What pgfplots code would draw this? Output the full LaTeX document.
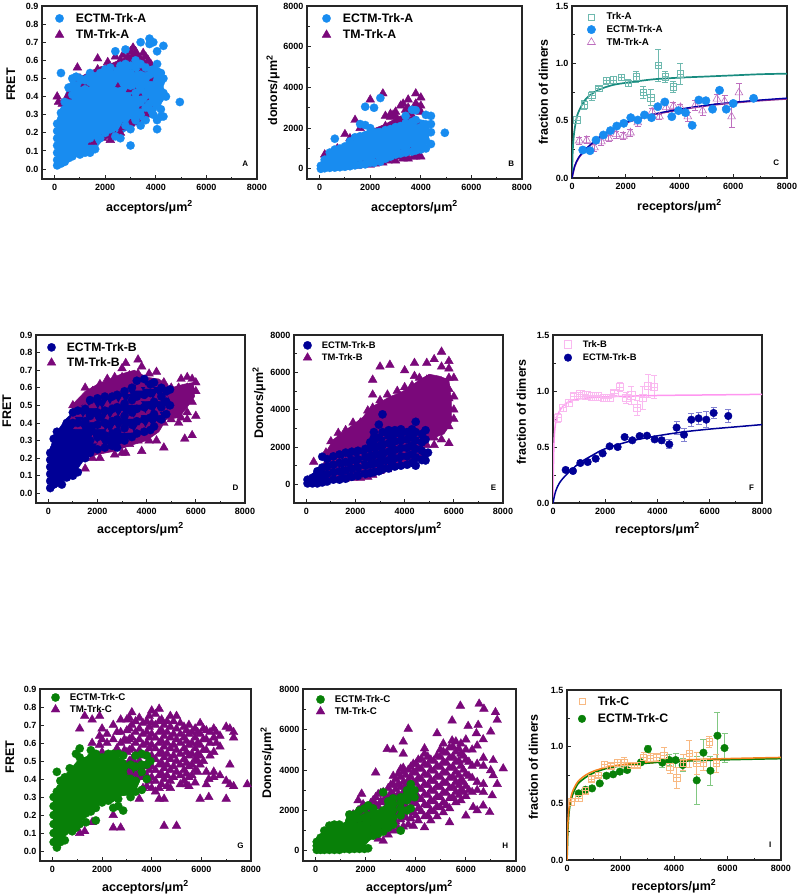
\documentclass[border=0pt]{standalone}
\usepackage{fontspec}
\setmainfont{Liberation Sans}
\usepackage{pgfplots}
\pgfplotsset{compat=1.18}
\definecolor{skyb}{RGB}{24,140,240}
\definecolor{purp}{RGB}{122,8,122}
\definecolor{navy}{RGB}{0,0,150}
\definecolor{grn}{RGB}{8,128,8}
\definecolor{teal1}{RGB}{25,140,128}
\definecolor{teal2}{RGB}{110,185,175}
\definecolor{lilac}{RGB}{190,110,190}
\definecolor{pink1}{RGB}{255,150,240}
\definecolor{pink2}{RGB}{250,185,240}
\definecolor{orng}{RGB}{245,130,30}
\definecolor{orng2}{RGB}{248,185,130}
\definecolor{errb}{RGB}{130,130,210}
\definecolor{errg}{RGB}{130,200,130}
\pgfdeclareplotmark{sqplus}{%
 \pgfpathrectangle{\pgfqpoint{-\pgfplotmarksize}{-\pgfplotmarksize}}{\pgfqpoint{2\pgfplotmarksize}{2\pgfplotmarksize}}%
 \pgfpathmoveto{\pgfqpoint{-\pgfplotmarksize}{0pt}}\pgfpathlineto{\pgfqpoint{\pgfplotmarksize}{0pt}}%
 \pgfpathmoveto{\pgfqpoint{0pt}{-\pgfplotmarksize}}\pgfpathlineto{\pgfqpoint{0pt}{\pgfplotmarksize}}%
 \pgfusepathqstroke}
\newcommand{\fs}[1]{\bfseries\fontsize{#1}{#1}\selectfont}
\pgfplotsset{
 panel/.style={scale only axis, axis line style={line width=1.3pt,black!85},
  tick pos=lower, tick align=inside, major tick length=4pt, minor tick length=2.5pt,
  tick style={line width=.9pt,black!85}, scaled ticks=false, clip=true,
  tick label style={font=\fs{9}}, xticklabel style={yshift=-2pt},
  /pgf/number format/assume math mode=true, /pgf/number format/1000 sep={},
  xtick={0,2000,4000,6000,8000}, minor x tick num=1, xmax=8000,
  label style={font=\fs{12.5}},
  legend cell align=left, reverse legend},
 fretax/.style={panel, xmin=-500, ymin=-0.055, ymax=0.9, ytick={0,0.1,...,0.9}, ylabel={FRET},
  xlabel={acceptors/μm\textsuperscript{2}},
  yticklabel style={/pgf/number format/fixed,/pgf/number format/fixed zerofill,/pgf/number format/precision=1}},
 donax/.style={panel, xmin=-500, ymin=-500, ymax=8000, ytick={0,2000,4000,6000,8000}, minor y tick num=1,
  xlabel={acceptors/μm\textsuperscript{2}}},
 dimax/.style={panel, xmin=0, ymin=0, ymax=1.5, ytick={0,0.5,1,1.5}, minor y tick num=1,
  ylabel={fraction of dimers}, xlabel={receptors/μm\textsuperscript{2}},
  yticklabel style={/pgf/number format/fixed,/pgf/number format/fixed zerofill,/pgf/number format/precision=1}},
 lg/.style n args={5}{legend style={draw=none,fill=none,at={(#1pt,#2pt)},anchor=north west,inner sep=0pt,
   font=\fs{#3},nodes={inner sep=1pt},row sep=#5pt,
   /tikz/every odd column/.append style={column sep=#4pt}}},
 lab/.style n args={3}{ylabel style={yshift=#1pt,xshift=#2pt}, xlabel style={yshift=#3pt}},
 tri/.style={only marks, mark=triangle*, mark size=5pt, mark options={draw=#1,fill=#1,line width=.4pt}},
 cir/.style={only marks, mark=*, mark size=4.2pt, mark options={draw=#1,fill=#1,line width=.2pt}},
 core/.style={forget plot, fill=#1, draw=#1, line width=.5pt},
 errs/.style={error bars/.cd, y dir=both, y explicit, error bar style={line width=.7pt,#1},
   error mark options={rotate=90,mark size=3pt,line width=.7pt,#1}, /pgfplots/.cd},
}
% In the scatter panels a 'core' polygon is the saturated middle of a cloud, where the marks overlap
% into solid colour in the reference; its corners are read from the picture, the marks around it likewise.
\begin{document}
\begin{tikzpicture}
\path[use as bounding box] (0,0) rectangle (800pt,-894pt);
% A
\begin{axis}[fretax, at={(42pt,-179pt)}, anchor=south west, width=215pt, height=173pt, lg={13}{167}{12.3}{11}{4}, lab={4}{8}{-3}]
\addplot[core=purp] coordinates {(900,.5)(1700,.56)(2200,.58)(2700,.61)(3100,.64)(3500,.62)(3800,.55)(3800,.4)(3500,.3)(3000,.24)(2500,.19)(1900,.16)(1400,.15)} --cycle;
\addplot[tri=purp] coordinates {(100,.40)(150,.37)(300,.36)(500,.40)(600,.41)(900,.56)(1000,.50)(1200,.47)(1700,.61)(1700,.55)(2100,.59)(2150,.56)(2400,.62)(2600,.6)(2700,.63)(2900,.62)(3000,.65)(3100,.67)(3200,.65)(3300,.62)(3400,.6)(3500,.64)(3600,.62)(3700,.6)(3800,.58)(3000,.55)(3300,.57)(3500,.55)(1500,.15)(1900,.17)(2200,.16)(2400,.18)(2600,.2)(2700,.23)(3000,.25)(3300,.26)(3500,.35)(2500,.45)(3000,.44)(3200,.42)(3500,.42)(3700,.36)(3600,.3)(3800,.5)};
\addlegendentry{TM-Trk-A}
\addplot[core=skyb] coordinates {(60,.03)(60,.24)(150,.3)(300,.36)(550,.46)(700,.5)(1000,.5)(1350,.53)(1700,.54)(2000,.56)(2400,.56)(2800,.58)(3200,.58)(3600,.56)(4100,.55)(4300,.47)(4300,.38)(4000,.32)(3700,.29)(3300,.25)(2900,.22)(2500,.18)(2200,.22)(1900,.16)(1600,.11)(1300,.09)(900,.08)(500,.05)(200,.02)} --cycle;
\addplot[cir=skyb] coordinates {(100,.02)(100,.05)(100,.09)(100,.13)(100,.17)(100,.21)(100,.25)(250,.03)(250,.07)(250,.12)(250,.17)(250,.22)(250,.27)(250,.31)(250,.53)(400,.04)(400,.09)(400,.15)(400,.21)(400,.27)(400,.33)(400,.37)(550,.06)(550,.12)(550,.18)(550,.24)(550,.30)(550,.36)(550,.45)(700,.07)(700,.13)(700,.2)(700,.27)(700,.34)(700,.41)(700,.50)(850,.09)(850,.16)(850,.23)(850,.30)(850,.37)(850,.44)(850,.51)(1000,.08)(1000,.15)(1000,.22)(1000,.29)(1000,.36)(1000,.43)(1000,.50)(1200,.09)(1200,.16)(1200,.23)(1200,.3)(1200,.37)(1200,.44)(1200,.49)(1400,.09)(1400,.17)(1400,.25)(1400,.33)(1400,.41)(1400,.48)(1400,.53)(1600,.11)(1600,.19)(1600,.27)(1600,.35)(1600,.43)(1600,.50)(1800,.17)(1800,.25)(1800,.33)(1800,.41)(1800,.49)(1800,.53)(2000,.2)(2000,.27)(2000,.35)(2000,.43)(2000,.5)(2000,.55)(2200,.22)(2200,.29)(2200,.37)(2200,.45)(2200,.53)(2200,.56)(2400,.18)(2400,.27)(2400,.35)(2400,.43)(2400,.51)(2400,.65)(2600,.17)(2600,.28)(2600,.36)(2600,.43)(2600,.5)(2600,.57)(2800,.24)(2800,.32)(2800,.40)(2800,.47)(2800,.54)(2800,.58)(2800,.66)(3000,.13)(3000,.22)(3000,.3)(3000,.38)(3000,.46)(3000,.53)(3000,.57)(3200,.27)(3200,.35)(3200,.42)(3200,.5)(3200,.56)(3200,.6)(3400,.24)(3400,.3)(3400,.37)(3400,.44)(3400,.52)(3400,.58)(3400,.70)(3600,.27)(3600,.34)(3600,.42)(3600,.5)(3600,.56)(3750,.36)(3750,.46)(3750,.52)(3750,.72)(3750,.69)(3900,.30)(3900,.38)(3900,.45)(3900,.55)(3900,.70)(4050,.22)(4050,.27)(4050,.36)(4050,.43)(4050,.49)(4050,.54)(4050,.58)(4050,.65)(4200,.29)(4200,.33)(4200,.43)(4200,.48)(4200,.53)(4300,.29)(4300,.42)(4300,.5)(4300,.68)(4400,.40)(4950,.37)};
\addlegendentry{ECTM-Trk-A}
\node[font=\fs{8}] at (rel axis cs:.945,.09) {A};
\end{axis}
% B
\begin{axis}[donax, at={(307pt,-179pt)}, anchor=south west, width=215pt, height=173pt, ylabel={donors/μm\textsuperscript{2}}, lg={15}{167}{12.3}{11}{4}, lab={-3}{2}{-3}]
\addplot[core=purp] coordinates {(500,200)(1000,1100)(1500,1600)(2000,1900)(2600,2200)(3200,2600)(3800,2500)(3900,1000)(3200,600)(2500,400)(1500,250)(800,120)} --cycle;
\addplot[tri=purp] coordinates {(200,700)(700,1000)(1000,1700)(1200,1500)(1400,2400)(1600,2000)(2000,3400)(2500,3700)(2600,2600)(2800,2700)(3000,2800)(3200,3100)(3500,3400)(3800,3700)(4000,3500)(4000,2800)(3700,2500)(1000,100)(1500,150)(2000,200)(2500,300)(3000,400)(3300,500)(3500,500)(3800,600)(4000,600)(2800,500)(3200,700)(3600,800)(3000,2300)(2600,2100)(2800,2550)(2900,2650)(3000,2600)(3300,3200)(3400,2900)(3500,3000)(3600,2700)(3900,3000)(3800,2300)(3800,3200)(4000,3100)(1200,200)(1700,180)(2200,250)(2700,400)(2900,500)(3100,600)(3300,600)(3700,600)(3900,650)};
\addlegendentry{TM-Trk-A}
\addplot[core=skyb] coordinates {(0,0)(0,250)(400,800)(800,1100)(1200,1400)(1600,1700)(2000,1950)(2500,2000)(3000,2150)(3400,2300)(3800,2450)(4300,2350)(4350,1700)(4200,1100)(3700,900)(3000,700)(2600,400)(2000,300)(1500,180)(1000,100)(500,40)} --cycle;
\addplot[cir=skyb] coordinates {(50,0)(50,150)(200,30)(200,250)(200,450)(400,50)(400,300)(400,550)(400,800)(600,60)(600,350)(600,650)(600,950)(600,1480)(800,80)(800,400)(800,700)(800,1000)(1000,100)(1000,400)(1000,750)(1000,1100)(1200,130)(1200,450)(1200,800)(1200,1150)(1200,1350)(1400,170)(1400,500)(1400,850)(1400,1200)(1400,1550)(1600,200)(1600,550)(1600,900)(1600,1250)(1600,1600)(1600,2200)(1800,220)(1800,600)(1800,950)(1800,1300)(1800,1650)(1800,2150)(1800,3050)(2000,300)(2000,650)(2000,1000)(2000,1350)(2000,1700)(2000,2000)(2150,300)(2150,700)(2150,1050)(2150,1400)(2150,1750)(2150,3000)(2400,350)(2400,750)(2400,1100)(2400,1450)(2400,1800)(2400,3480)(2600,500)(2600,850)(2600,1200)(2600,1550)(2600,1900)(2800,600)(2800,900)(2800,1250)(2800,1600)(2800,1950)(3000,700)(3000,1050)(3000,1400)(3000,1750)(3000,2050)(3200,750)(3200,1150)(3200,1500)(3200,1850)(3200,2100)(3400,800)(3400,1200)(3400,1550)(3400,1900)(3400,2250)(3400,2600)(3650,850)(3650,1250)(3650,1600)(3650,1950)(3650,2300)(3650,2900)(3800,900)(3800,1300)(3800,1650)(3800,2000)(3800,2400)(3800,2880)(4000,950)(4000,1300)(4000,1700)(4000,2050)(4200,1000)(4200,1400)(4200,1750)(4200,2100)(4200,2650)(4400,1220)(4400,1800)(4400,2200)(4400,2600)(4950,1770)};
\addlegendentry{ECTM-Trk-A}
\node[font=\fs{8}] at (rel axis cs:.95,.09) {B};
\end{axis}
% C
\begin{axis}[dimax, at={(572pt,-178pt)}, anchor=south west, width=215pt, height=172pt, reverse legend=false, lg={15}{166.5}{9.8}{10}{2}, lab={1}{0}{-3}]
\addplot[only marks, mark=sqplus, mark size=3.2pt, mark options={teal2,line width=.6pt}, legend image post style={mark=square}, errs=teal2] coordinates {(174,.506)+-(0,.03)(460,.64)+-(0,.04)(733,.72)+-(0,.04)(994,.78)+-(0,.02)(1267,.85)+-(0,.03)(1540,.855)+-(0,.03)(1826,.878)+-(0,.03)(2100,.826)+-(0,.03)(2385,.884)+-(0,.05)(2658,.747)+-(0,.05)(2930,.70)+-(0,.07)(3205,.985)+-(0,.14)(3466,.884)+-(0,.05)(3764,.797)+-(0,.05)(4025,.907)+-(0,.09)};
\addlegendentry{Trk-A}
\addplot[forget plot, only marks, mark=triangle, mark size=4.5pt, mark options={lilac,line width=.6pt}, errs=lilac] coordinates {(273,.325)+-(0,.03)(547,.33)+-(0,.03)(832,.265)+-(0,.03)(1093,.317)+-(0,.03)(1366,.346)+-(0,.03)(1640,.38)+-(0,.03)(1913,.366)+-(0,.03)(2174,.395)+-(0,.03)(2447,.483)+-(0,.03)(2981,.578)+-(0,.03)(3255,.535)+-(0,.02)(3503,.616)+-(0,.04)(3776,.628)+-(0,.03)(4037,.616)+-(0,.03)(4310,.535)+-(0,.04)(4584,.634)+-(0,.04)(4857,.587)+-(0,.04)(5391,.69)+-(0,.04)(5677,.67)+-(0,.05)(5938,.535)+-(0,.09)(6211,.744)+-(0,.08)};
\addplot[only marks, mark=*, mark size=4.2pt, mark options={draw=skyb,fill=skyb}] coordinates {(400,.244)(670,.238)(894,.33)(1168,.375)(1429,.413)(1665,.453)(1925,.477)(2186,.526)(2447,.506)(2696,.55)(2957,.526)(3193,.622)(3453,.663)(3714,.535)(3963,.587)(4224,.57)(4472,.459)(4720,.68)(4981,.674)(5230,.6)(5490,.765)(5739,.60)(5999,.65)(6758,.695)};
\addlegendentry{ECTM-Trk-A}
\addlegendimage{only marks, mark=triangle, mark size=4.5pt, mark options={lilac,line width=.6pt}}
\addlegendentry{TM-Trk-A}
\addplot[forget plot, teal1, line width=1.7pt, smooth] coordinates {(0,0)(10,.1)(30,.25)(60,.35)(100,.43)(200,.55)(400,.65)(600,.71)(1000,.77)(1500,.81)(2000,.83)(3000,.86)(4000,.875)(5000,.885)(6000,.895)(7000,.905)(8000,.91)};
\addplot[forget plot, purp!85, line width=1.7pt, smooth] coordinates {(0,0)(100,.1)(250,.175)(500,.245)(1000,.35)(1500,.42)(2000,.48)(3000,.55)(4000,.595)(5000,.63)(6000,.655)(7000,.675)(8000,.69)};
\addplot[forget plot, blue!65!black, line width=1.3pt, smooth] coordinates {(0,0)(100,.105)(250,.18)(500,.25)(1000,.355)(1500,.425)(2000,.485)(3000,.555)(4000,.6)(5000,.635)(6000,.66)(7000,.68)(8000,.697)};
\node[font=\fs{8}] at (rel axis cs:.95,.09) {C};
\end{axis}
% D
\begin{axis}[fretax, at={(36pt,-503pt)}, anchor=south west, width=209pt, height=168pt, lg={11}{162}{12.2}{10}{3}, lab={2}{8}{-1}]
\addplot[core=purp] coordinates {(950,.5)(1500,.58)(2000,.62)(2500,.65)(3000,.68)(3500,.7)(4000,.66)(4500,.65)(5000,.6)(5500,.62)(5900,.63)(5950,.55)(5600,.48)(5300,.43)(4800,.42)(4500,.35)(4000,.3)(3300,.27)(2700,.24)(2000,.22)(1500,.2)} --cycle;
\addplot[tri=purp] coordinates {(1000,.5)(1000,.42)(1200,.5)(1200,.45)(1200,.38)(1500,.6)(1500,.5)(1500,.42)(1500,.14)(1800,.58)(1800,.5)(1800,.42)(1800,.3)(1800,.2)(2100,.62)(2100,.55)(2100,.47)(2100,.38)(2100,.28)(2100,.2)(2400,.65)(2400,.58)(2400,.5)(2400,.42)(2400,.34)(2400,.25)(2700,.66)(2700,.6)(2700,.52)(2700,.44)(2700,.36)(2700,.22)(3000,.71)(3000,.66)(3000,.6)(3000,.52)(3000,.44)(3000,.36)(3000,.23)(3150,.74)(3150,.65)(3150,.58)(3150,.23)(3300,.67)(3300,.6)(3300,.52)(3300,.44)(3300,.36)(3300,.28)(3650,.76)(3650,.68)(3650,.6)(3650,.52)(3650,.44)(3650,.36)(3650,.3)(3800,.72)(3800,.62)(3800,.54)(3800,.46)(3800,.38)(3800,.24)(4100,.68)(4100,.61)(4100,.54)(4100,.46)(4100,.38)(4100,.3)(4400,.69)(4400,.62)(4400,.54)(4400,.46)(4400,.38)(4400,.3)(4700,.63)(4700,.56)(4700,.48)(4700,.4)(4700,.26)(5000,.6)(5000,.53)(5000,.46)(5000,.42)(5300,.6)(5300,.53)(5300,.47)(5300,.4)(5400,.65)(5400,.58)(5400,.5)(5400,.43)(5650,.66)(5650,.6)(5650,.53)(5650,.46)(5650,.42)(5850,.65)(5850,.59)(5850,.52)(5850,.33)(6000,.63)(6000,.58)(6000,.44)(5550,.31)};
\addlegendentry{TM-Trk-B}
\addplot[core=navy] coordinates {(50,.04)(50,.24)(200,.31)(350,.35)(700,.42)(1000,.46)(1300,.49)(1600,.53)(2000,.54)(2400,.55)(2800,.56)(3100,.58)(3500,.61)(3900,.64)(4300,.63)(4700,.59)(4950,.53)(4800,.46)(4300,.39)(3800,.35)(3100,.3)(2700,.26)(2000,.26)(1500,.2)(1150,.13)(800,.09)(500,.06)(150,.03)} --cycle;
\addplot[cir=navy] coordinates {(80,.03)(80,.07)(80,.11)(80,.15)(80,.19)(80,.23)(220,.05)(220,.1)(220,.15)(220,.2)(220,.25)(220,.31)(350,.06)(350,.12)(350,.18)(350,.24)(350,.3)(350,.35)(550,.05)(550,.1)(550,.16)(550,.22)(550,.28)(550,.34)(750,.09)(750,.15)(750,.21)(750,.27)(750,.33)(750,.4)(1000,.1)(1000,.16)(1000,.22)(1000,.28)(1000,.34)(1000,.4)(1000,.46)(1200,.12)(1200,.19)(1200,.26)(1200,.33)(1200,.4)(1200,.47)(1500,.2)(1500,.27)(1500,.34)(1500,.41)(1500,.48)(1700,.23)(1700,.3)(1700,.37)(1700,.44)(1700,.53)(2000,.25)(2000,.32)(2000,.39)(2000,.46)(2000,.54)(2300,.26)(2300,.33)(2300,.4)(2300,.47)(2300,.55)(2600,.27)(2600,.34)(2600,.41)(2600,.48)(2600,.55)(2800,.26)(2800,.35)(2800,.42)(2800,.49)(2800,.56)(3100,.3)(3100,.37)(3100,.44)(3100,.51)(3100,.58)(3400,.32)(3400,.39)(3400,.46)(3400,.53)(3400,.6)(3600,.34)(3600,.41)(3600,.48)(3600,.55)(3600,.64)(3900,.35)(3900,.42)(3900,.49)(3900,.56)(3900,.65)(4150,.36)(4150,.43)(4150,.5)(4150,.57)(4150,.62)(4300,.38)(4300,.45)(4300,.52)(4300,.63)(4600,.42)(4600,.49)(4600,.55)(4600,.6)(4800,.45)(4800,.52)(4800,.58)(4950,.5)(4950,.59)};
\addlegendentry{ECTM-Trk-B}
\node[font=\fs{8}] at (rel axis cs:.955,.09) {D};
\end{axis}
% E
\begin{axis}[donax, ymin=-1000, at={(294pt,-503pt)}, anchor=south west, width=209pt, height=168pt, ylabel={Donors/μm\textsuperscript{2}}, lg={9}{163}{9.4}{9}{2}, lab={-2}{16}{-1}]
\addplot[core=purp] coordinates {(700,1500)(1100,2400)(1500,2800)(1900,3200)(2300,3600)(2600,4100)(3000,4400)(3400,4700)(3800,4900)(4200,5200)(4600,5600)(5000,5900)(5400,5800)(5800,5600)(5900,4500)(5900,3300)(5600,2700)(5000,2400)(4600,1900)(4000,1400)(3400,900)(2800,600)(2200,420)(1500,350)(1000,450)} --cycle;
\addplot[tri=purp] coordinates {(300,1200)(800,600)(800,1100)(800,1700)(1000,350)(1000,800)(1000,1300)(1000,1800)(1000,2300)(1300,350)(1300,850)(1300,1350)(1300,1850)(1300,2400)(1300,2750)(1600,300)(1600,800)(1600,1300)(1600,1800)(1600,2300)(1600,2900)(1900,350)(1900,850)(1900,1350)(1900,1850)(1900,2350)(1900,2850)(1900,3300)(2200,350)(2200,900)(2200,1400)(2200,1900)(2200,2400)(2200,2900)(2200,3300)(2500,400)(2500,950)(2500,1450)(2500,1950)(2500,2450)(2500,2950)(2500,3450)(2500,3950)(2700,500)(2700,1000)(2700,1500)(2700,2000)(2700,2500)(2700,3000)(2700,3500)(2700,4100)(2700,4800)(2700,5600)(3000,700)(3000,1200)(3000,1700)(3000,2200)(3000,2700)(3000,3200)(3000,3700)(3000,4200)(3000,4500)(3000,6300)(3300,800)(3300,1300)(3300,1800)(3300,2300)(3300,2800)(3300,3300)(3300,3800)(3300,4300)(3300,4800)(3400,6400)(3700,1000)(3700,1500)(3700,2000)(3700,2500)(3700,3000)(3700,3500)(3700,4000)(3700,4500)(3700,5000)(4000,1200)(4000,1700)(4000,2200)(4000,2700)(4000,3200)(4000,3700)(4000,4200)(4000,4700)(4000,5200)(4000,6100)(4300,1400)(4300,1900)(4300,2400)(4300,2900)(4300,3400)(4300,3900)(4300,4400)(4300,4900)(4300,5300)(4400,5800)(4400,6500)(4600,1700)(4600,2200)(4600,2700)(4600,3200)(4600,3700)(4600,4200)(4600,4700)(4600,5200)(4600,5700)(4900,2100)(4900,2600)(4900,3100)(4900,3600)(4900,4100)(4900,4600)(4900,5100)(4900,5600)(4900,6500)(5200,2100)(5200,2500)(5200,3000)(5200,3500)(5200,4000)(5200,4500)(5200,5000)(5200,5500)(5200,6700)(5500,2400)(5500,3000)(5500,3500)(5500,4000)(5500,4500)(5500,5000)(5500,5500)(5500,6300)(5500,7100)(5800,2200)(5800,3100)(5800,3600)(5800,4100)(5800,4600)(5800,5100)(5800,5700)(5800,6200)(5800,6600)(6000,3500)(6000,4000)(6000,4700)(6000,5700)};
\addlegendentry{TM-Trk-B}
\addplot[core=navy] coordinates {(0,50)(0,300)(500,850)(900,1350)(1500,1750)(2000,1800)(2500,2100)(2750,2750)(3100,2800)(3400,2900)(3800,2950)(4400,2950)(4700,2600)(4800,1500)(4400,1100)(3700,1000)(3000,750)(2400,560)(1800,400)(1200,250)(600,80)} --cycle;
\addplot[cir=navy] coordinates {(50,50)(50,250)(250,50)(250,350)(450,50)(450,400)(450,700)(650,100)(650,500)(650,900)(650,1480)(850,150)(850,550)(850,950)(850,1350)(1100,250)(1100,650)(1100,1050)(1100,1500)(1350,250)(1350,700)(1350,1150)(1350,1600)(1600,300)(1600,750)(1600,1200)(1600,1700)(1850,400)(1850,850)(1850,1300)(1850,1750)(2100,450)(2100,900)(2100,1350)(2100,1800)(2400,550)(2400,1000)(2400,1450)(2400,1900)(2600,600)(2600,1050)(2600,1500)(2600,1950)(2600,2250)(2750,650)(2750,1100)(2750,1550)(2750,2000)(2750,2500)(2750,2800)(2950,700)(2950,1150)(2950,1600)(2950,2050)(2950,2500)(2950,3200)(3100,800)(3100,1250)(3100,1700)(3100,2150)(3100,2800)(3100,3750)(3350,850)(3350,1300)(3350,1750)(3350,2200)(3350,2600)(3350,2900)(3600,950)(3600,1400)(3600,1850)(3600,2300)(3600,2700)(3600,2900)(3850,1000)(3850,1500)(3850,1950)(3850,2350)(3850,2700)(3850,2950)(4100,1050)(4100,1500)(4100,1950)(4100,2400)(4100,2800)(4300,1150)(4300,1600)(4300,2050)(4300,2500)(4300,2950)(4450,1000)(4450,1450)(4450,1900)(4450,2350)(4450,2800)(4450,3350)(4700,1300)(4700,1800)(4700,2250)(4700,2700)(4850,1280)(4850,1650)(4850,2400)(4850,2900)(4950,1700)};
\addlegendentry{ECTM-Trk-B}
\node[font=\fs{8}] at (rel axis cs:.955,.09) {E};
\end{axis}
% F
\begin{axis}[dimax, at={(553pt,-503pt)}, anchor=south west, width=209pt, height=168pt, lg={11}{164}{9.4}{10}{3}, reverse legend=false, lab={4}{7}{-1}]
\addplot[only marks, mark=sqplus, mark size=3.6pt, mark options={pink2,line width=.6pt}, legend image post style={mark=square}, errs=pink2] coordinates {(179,.762)+-(0,.04)(383,.851)+-(0,.03)(600,.896)+-(0,.03)(816,.952)+-(0,.03)(1046,.97)+-(0,.02)(1276,.961)+-(0,.01)(1505,.952)+-(0,.01)(1722,.952)+-(0,.01)(1939,.94)+-(0,.01)(2156,.94)+-(0,.01)(2347,.982)+-(0,.02)(2551,1.036)+-(0,.04)(2806,.94)+-(0,.05)(2997,.961)+-(0,.08)(3214,.851)+-(0,.07)(3431,.94)+-(0,.1)(3635,1.045)+-(0,.1)(3865,1.036)+-(0,.1)};
\addlegendentry{Trk-B}
\addplot[only marks, mark=*, mark size=3.8pt, mark options={draw=navy,fill=navy}, errs=errb] coordinates {(485,.295)+-(0,.02)(765,.286)+-(0,.02)(1046,.357)+-(0,.02)(1327,.366)+-(0,.02)(1633,.396)+-(0,.02)(1900,.443)+-(0,.02)(2168,.506)+-(0,.02)(2474,.5)+-(0,.02)(2742,.589)+-(0,.02)(3036,.56)+-(0,.02)(3316,.598)+-(0,.02)(3597,.601)+-(0,.02)(3890,.568)+-(0,.02)(4158,.56)+-(0,.03)(4451,.524)+-(0,.04)(4732,.673)+-(0,.06)(5013,.61)+-(0,.06)(5293,.744)+-(0,.06)(5574,.756)+-(0,.055)(5867,.744)+-(0,.07)(6148,.804)+-(0,.05)(6709,.777)+-(0,.06)};
\addlegendentry{ECTM-Trk-B}
\addplot[forget plot, pink1, line width=1.5pt, smooth] coordinates {(0,0)(15,.3)(40,.55)(80,.68)(150,.77)(300,.84)(500,.89)(800,.92)(1200,.935)(2000,.948)(4000,.96)(6000,.965)(8000,.97)};
\addplot[forget plot, navy, line width=1.5pt, smooth] coordinates {(0,0)(100,.105)(250,.18)(500,.25)(1000,.355)(1500,.425)(2000,.485)(3000,.555)(4000,.6)(5000,.635)(6000,.66)(7000,.68)(8000,.7)};
\node[font=\fs{8}] at (rel axis cs:.95,.09) {F};
\end{axis}
% G
\begin{axis}[fretax, at={(40pt,-861pt)}, anchor=south west, width=211pt, height=172pt, lg={11}{169}{9.7}{9}{1.5}, lab={3}{18}{-1}]
\addplot[tri=purp] coordinates {(1100,.10)(1100,.68)(1300,.11)(1300,.75)(1600,.16)(1600,.60)(1600,.73)(1900,.64)(1900,.59)(1900,.75)(2200,.65)(2200,.6)(2450,.2)(2450,.13)(2450,.62)(2450,.7)(2750,.13)(2750,.6)(2750,.66)(2750,.73)(3000,.73)(3000,.67)(3000,.61)(3000,.55)(3200,.77)(3200,.7)(3200,.63)(3200,.57)(3200,.51)(3500,.74)(3500,.68)(3500,.62)(3500,.56)(3500,.5)(3500,.44)(3500,.29)(3800,.72)(3800,.66)(3800,.6)(3800,.54)(3800,.48)(3800,.42)(3800,.36)(4000,.78)(4000,.71)(4000,.65)(4000,.59)(4000,.53)(4000,.47)(4000,.41)(4000,.35)(4300,.79)(4300,.72)(4300,.66)(4300,.6)(4300,.54)(4300,.48)(4300,.42)(4300,.35)(4300,.29)(4500,.14)(4500,.7)(4500,.64)(4500,.58)(4500,.52)(4500,.46)(4500,.4)(4500,.29)(4750,.75)(4750,.69)(4750,.63)(4750,.57)(4750,.51)(4750,.45)(4750,.39)(4750,.35)(5000,.14)(5000,.75)(5000,.68)(5000,.62)(5000,.56)(5000,.5)(5000,.44)(5300,.69)(5300,.63)(5300,.57)(5300,.51)(5300,.45)(5300,.39)(5500,.7)(5500,.65)(5500,.59)(5500,.53)(5500,.47)(5500,.41)(5500,.36)(5750,.68)(5750,.63)(5750,.57)(5750,.51)(5750,.45)(5750,.38)(5950,.71)(5950,.65)(5950,.59)(5950,.53)(5950,.48)(5950,.29)(6200,.67)(6200,.62)(6200,.56)(6200,.44)(6200,.37)(6300,.3)(6300,.4)(6500,.68)(6500,.63)(6500,.55)(6500,.44)(6500,.41)(6750,.64)(6750,.58)(6750,.42)(7000,.69)(7000,.29)(7000,.39)(7150,.68)(7150,.48)(7150,.37)(7300,.66)(7300,.63)(7300,.36)(7850,.37)
(3100,.74)(3100,.68)(3100,.62)(3100,.56)(3100,.5)(3100,.44)(3350,.72)(3350,.66)(3350,.6)(3350,.54)(3350,.48)(3350,.42)(3650,.71)(3650,.65)(3650,.59)(3650,.53)(3650,.47)(3650,.41)(3650,.35)(3900,.75)(3900,.69)(3900,.63)(3900,.57)(3900,.51)(3900,.45)(3900,.39)(4150,.76)(4150,.7)(4150,.63)(4150,.57)(4150,.51)(4150,.45)(4150,.39)(4150,.33)(4400,.73)(4400,.67)(4400,.61)(4400,.55)(4400,.49)(4400,.43)(4400,.37)(4620,.72)(4620,.66)(4620,.6)(4620,.54)(4620,.48)(4620,.42)(4620,.36)(4880,.72)(4880,.65)(4880,.59)(4880,.53)(4880,.47)(4880,.41)(5150,.71)(5150,.65)(5150,.6)(5150,.54)(5150,.48)(5150,.42)(5150,.37)(5400,.67)(5400,.61)(5400,.55)(5400,.49)(5400,.43)(5400,.37)(5620,.66)(5620,.6)(5620,.54)(5620,.48)(5620,.42)(5850,.66)(5850,.6)(5850,.54)(5850,.5)(5850,.44)(6080,.68)(6080,.62)(6080,.56)(6080,.5)(6350,.66)(6350,.6)(6350,.53)(2000,.55)(2000,.68)(2000,.62)(2600,.57)(2600,.66)(2900,.62)(2900,.56)(6600,.66)(6600,.6)};
\addlegendentry{TM-Trk-C}
\addplot[core=grn] coordinates {(40,.06)(40,.3)(180,.33)(350,.38)(650,.44)(1000,.5)(1600,.54)(2500,.53)(3000,.5)(3500,.48)(3700,.45)(3400,.35)(3100,.31)(2800,.31)(2400,.27)(2000,.27)(1700,.24)(1300,.18)(900,.14)(500,.08)(250,.03)(120,.03)} --cycle;
\addplot[cir=grn] coordinates {(50,.05)(50,.1)(50,.15)(50,.2)(50,.25)(50,.3)(180,.02)(180,.07)(180,.12)(180,.17)(180,.22)(180,.27)(180,.33)(180,.44)(320,.05)(320,.1)(320,.15)(320,.2)(320,.25)(320,.3)(320,.35)(320,.39)(500,.06)(500,.11)(500,.16)(500,.21)(500,.26)(500,.31)(500,.36)(500,.41)(700,.12)(700,.17)(700,.22)(700,.27)(700,.32)(700,.37)(700,.42)(700,.46)(800,.11)(950,.13)(950,.18)(950,.23)(950,.28)(950,.33)(950,.38)(950,.43)(950,.45)(950,.54)(1100,.15)(1100,.2)(1100,.25)(1100,.3)(1100,.35)(1100,.4)(1100,.45)(1100,.52)(1100,.57)(1350,.16)(1350,.21)(1350,.26)(1350,.31)(1350,.36)(1350,.41)(1350,.46)(1350,.5)(1550,.22)(1550,.27)(1550,.32)(1550,.37)(1550,.42)(1550,.47)(1550,.52)(1550,.56)(1750,.17)(1750,.24)(1750,.29)(1750,.34)(1750,.39)(1750,.44)(1750,.49)(1750,.54)(2000,.27)(2000,.32)(2000,.37)(2000,.42)(2000,.47)(2000,.52)(2250,.28)(2250,.33)(2250,.38)(2250,.43)(2250,.48)(2250,.54)(2450,.24)(2450,.3)(2450,.35)(2450,.4)(2450,.45)(2450,.5)(2450,.54)(2650,.25)(2650,.29)(2650,.34)(2650,.39)(2650,.44)(2650,.49)(2650,.54)(2850,.225)(2850,.33)(2850,.38)(2850,.43)(2850,.48)(2850,.53)(3150,.3)(3150,.35)(3150,.4)(3150,.48)(3350,.33)(3350,.39)(3350,.47)(3350,.53)(3600,.34)(3600,.44)(3600,.48)(3600,.54)(3800,.4)(3800,.48)(3800,.53)(3950,.5)};
\addlegendentry{ECTM-Trk-C}
\node[font=\fs{8}] at (rel axis cs:.95,.09) {G};
\end{axis}
% H
\begin{axis}[donax, at={(303pt,-861pt)}, anchor=south west, width=213pt, height=172pt, ylabel={Donors/μm\textsuperscript{2}}, lg={13}{167}{9.7}{9}{1.5}, lab={-1}{12}{-1}]
\addplot[tri=purp] coordinates {(1410,1740)(1500,1800)(1700,1500)(1700,2000)(1700,2500)(1900,1300)(1900,1800)(1900,2300)(1840,2820)(2100,1100)(2100,1600)(2100,2100)(2300,1000)(2300,1500)(2300,2000)(2300,2500)(2400,3870)(2500,600)(2500,1200)(2500,1700)(2500,2200)(2500,2800)(2700,500)(2700,1300)(2700,1900)(2700,2400)(2700,2900)(2900,800)(2900,1500)(2900,2100)(2900,2600)(2900,3100)(2860,5030)(3100,1000)(3100,1700)(3100,2300)(3100,2800)(3100,3300)(3100,3700)(3100,5000)(3300,1100)(3300,1800)(3300,2300)(3300,2800)(3300,3300)(3300,3800)(3500,1200)(3500,1900)(3500,2400)(3500,2900)(3500,3400)(3500,3900)(3500,4100)(3500,4800)(3500,5400)(3700,1300)(3700,2000)(3700,2500)(3700,3000)(3700,3500)(3700,4000)(3700,6030)(3900,1240)(3900,1900)(3900,2400)(3900,2900)(3900,3400)(3900,3900)(3900,4300)(4100,1500)(4100,2100)(4100,2600)(4100,3100)(4100,3600)(4100,4100)(4100,4500)(4350,1160)(4350,1700)(4350,2300)(4350,2800)(4350,3300)(4350,3800)(4350,4300)(4350,4800)(4350,5060)(4600,1500)(4600,2000)(4600,2500)(4600,3000)(4600,3500)(4600,4000)(4600,4500)(4850,1700)(4850,2200)(4850,2700)(4850,3200)(4850,3700)(4850,4200)(4850,4700)(4850,5810)(5100,1900)(5100,2400)(5100,2900)(5100,3400)(5100,3900)(5100,4400)(5100,4900)(5100,5300)(5350,1410)(5350,2100)(5350,2600)(5350,3100)(5350,3600)(5350,4100)(5350,4600)(5350,5100)(5450,5450)(5450,6440)(5600,2400)(5600,2900)(5600,3400)(5600,3900)(5600,4400)(5600,4900)(5600,5400)(5800,2500)(5800,3000)(5800,3500)(5800,4200)(5800,4800)(5800,5300)(5780,7170)(6000,1740)(6000,2700)(6000,3200)(6000,3800)(6000,4500)(6000,5000)(6000,5500)(6090,6170)(6290,2160)(6250,2900)(6250,3600)(6250,4200)(6250,5000)(6450,2000)(6450,3000)(6450,3400)(6450,4300)(6450,5200)(6420,5810)(6490,6220)(6530,7270)(6690,2240)(6700,2900)(6700,3300)(6700,4200)(6700,4600)(6690,5510)(6720,7020)(6950,1910)(7050,2740)(6990,3980)(7090,3730)(7090,4480)(6990,5890)(7180,6850)(7250,6470)(7490,4070)(7250,3300)
(2000,1450)(2000,1950)(2200,1350)(2200,1850)(2200,2350)(2400,1250)(2400,1750)(2400,2250)(2400,2650)(2600,1450)(2600,1950)(2600,2450)(2600,2850)(2800,1650)(2800,2150)(2800,2650)(3000,1350)(3000,1850)(3000,2350)(3000,2850)(3000,3250)(3200,1450)(3200,2050)(3200,2550)(3200,3050)(3200,3550)(3400,1550)(3400,2150)(3400,2650)(3400,3150)(3400,3650)(3400,4050)(3600,1650)(3600,2250)(3600,2750)(3600,3250)(3600,3750)(3800,1600)(3800,2150)(3800,2650)(3800,3150)(3800,3650)(3800,4150)(4000,1750)(4000,2350)(4000,2850)(4000,3350)(4000,3850)(4000,4300)(4220,1950)(4220,2550)(4220,3050)(4220,3550)(4220,4050)(4220,4550)(4480,1750)(4480,2250)(4480,2750)(4480,3250)(4480,3750)(4480,4250)(4480,4650)(4720,1950)(4720,2450)(4720,2950)(4720,3450)(4720,3950)(4720,4450)(4980,2150)(4980,2650)(4980,3150)(4980,3650)(4980,4150)(4980,4650)(4980,5000)(5220,2250)(5220,2850)(5220,3350)(5220,3850)(5220,4350)(5220,4850)(5480,2650)(5480,3150)(5480,3650)(5480,4150)(5480,4650)(5480,5150)(5720,2750)(5720,3250)(5720,3750)(5720,4450)(5720,5050)(5900,2900)(5900,3400)(5900,4000)(5900,4700)(6120,3000)(6120,3700)(6120,4400)};
\addlegendentry{TM-Trk-C}
\addplot[core=grn] coordinates {(50,50)(50,500)(300,1050)(700,1300)(1100,1300)(1400,1800)(1800,1950)(2200,2150)(2500,1950)(2900,2100)(3100,2500)(3600,2900)(3800,2500)(3300,1700)(3000,1300)(2600,1000)(2300,750)(2000,300)(1700,150)(1300,80)(800,50)} --cycle;
\addplot[cir=grn] coordinates {(50,50)(50,250)(50,450)(200,50)(200,350)(200,650)(350,50)(350,350)(350,650)(350,1000)(550,50)(550,350)(550,650)(550,1000)(550,1250)(750,50)(750,400)(750,750)(750,1100)(750,1300)(950,50)(950,400)(950,750)(950,1100)(950,1300)(1150,100)(1150,450)(1150,800)(1150,1150)(1150,1200)(1350,80)(1350,450)(1350,800)(1350,1150)(1350,1500)(1350,1800)(1550,100)(1550,500)(1550,850)(1550,1200)(1550,1550)(1550,1800)(1750,100)(1750,550)(1750,900)(1750,1250)(1750,1600)(1750,2000)(1950,100)(1950,600)(1950,950)(1950,1300)(1950,1650)(1950,2100)(2100,130)(2100,700)(2100,1050)(2100,1400)(2100,1750)(2100,2250)(2300,750)(2300,1100)(2300,1450)(2300,1800)(2300,2100)(2500,850)(2500,1200)(2500,1550)(2500,1850)(2700,950)(2700,1300)(2700,1650)(2700,2000)(2700,2900)(2900,1150)(2900,1500)(2900,1850)(2900,2200)(2900,2450)(3100,1300)(3100,1650)(3100,2000)(3100,2300)(3100,2600)(3400,1000)(3400,1750)(3400,2100)(3400,2400)(3400,2650)(3650,2000)(3650,2500)(3650,2800)(3650,3000)(3800,2100)(3800,2850)(3800,3300)(3950,2650)(3950,3000)};
\addlegendentry{ECTM-Trk-C}
\node[font=\fs{8}] at (rel axis cs:.95,.09) {H};
\end{axis}
% I
\begin{axis}[dimax, at={(567pt,-860pt)}, anchor=south west, width=214pt, height=170pt, reverse legend=false, lg={11}{165}{12.3}{11}{5}, lab={6}{8}{-1}]
\addplot[only marks, mark=*, mark size=3.8pt, mark options={draw=grn,fill=grn}, errs=errg, forget plot] coordinates {(437,.588)+-(0,.02)(690,.62)+-(0,.02)(937,.632)+-(0,.02)(1225,.676)+-(0,.02)(1475,.744)+-(0,.02)(1725,.756)+-(0,.02)(1975,.78)+-(0,.02)(2250,.794)+-(0,.02)(2763,.862)+-(0,.02)(3025,.979)+-(0,.03)(3563,.859)+-(0,.04)(3825,.882)+-(0,.05)(4062,.882)+-(0,.06)(4325,.838)+-(0,.06)(4850,.703)+-(0,.21)(5100,.947)+-(0,.12)(5362,.788)+-(0,.13)(5625,1.097)+-(0,.21)(5888,.988)+-(0,.13)};
\addplot[only marks, mark=sqplus, mark size=3.2pt, mark options={orng2,line width=.6pt}, legend image post style={mark=square}, errs=orng2] coordinates {(163,.515)+-(0,.03)(437,.544)+-(0,.03)(688,.612)+-(0,.02)(912,.715)+-(0,.02)(1163,.75)+-(0,.02)(1400,.844)+-(0,.03)(1637,.832)+-(0,.02)(1888,.859)+-(0,.03)(2137,.862)+-(0,.04)(2387,.838)+-(0,.02)(2625,.838)+-(0,.02)(2862,.906)+-(0,.04)(3125,.897)+-(0,.04)(3350,.903)+-(0,.04)(3625,.926)+-(0,.07)(3850,.824)+-(0,.06)(4100,.726)+-(0,.09)(4350,.859)+-(0,.07)(4575,.94)+-(0,.12)(4850,.853)+-(0,.1)(5100,.859)+-(0,.07)(5325,1.044)+-(0,.05)(5575,.853)+-(0,.08)};
\addlegendentry{Trk-C}
\addlegendimage{only marks, mark=*, mark size=3.8pt, mark options={draw=grn,fill=grn}}
\addlegendentry{ECTM-Trk-C}
\addplot[forget plot, grn, line width=1.7pt, smooth] coordinates {(0,0)(10,.08)(30,.26)(60,.38)(100,.47)(200,.57)(400,.67)(700,.73)(1000,.77)(1500,.81)(2000,.83)(3000,.855)(4000,.87)(6000,.885)(8000,.895)};
\addplot[forget plot, orng, line width=1.5pt, smooth] coordinates {(0,0)(10,.1)(30,.3)(60,.42)(100,.5)(200,.6)(400,.69)(700,.75)(1000,.785)(1500,.82)(2000,.84)(3000,.865)(4000,.88)(6000,.895)(8000,.905)};
\node[font=\fs{8}] at (rel axis cs:.95,.09) {I};
\end{axis}
\end{tikzpicture}
\end{document}
